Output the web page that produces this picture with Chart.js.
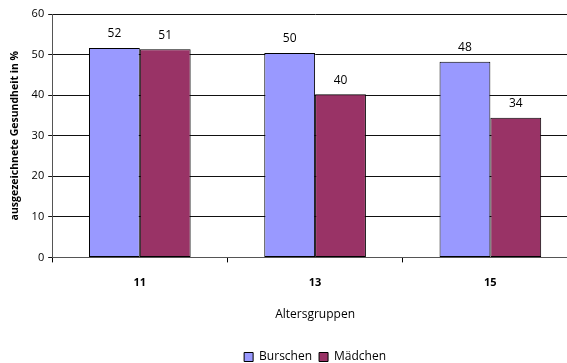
<!DOCTYPE html>
<html>
<head>
<meta charset="utf-8">
<script src="https://cdn.jsdelivr.net/npm/chart.js@4.4.1/dist/chart.umd.min.js"></script>
<style>
  html, body { margin: 0; padding: 0; background: #fff; overflow: hidden; }
  #wrap { width: 580px; height: 363px; }
</style>
</head>
<body>
<div id="wrap"><canvas id="chart" width="580" height="363"></canvas></div>
<script>
// data
var altersgruppen = ['11', '13', '15'];
var burschen = [51.6, 50.4, 48.2];
var maedchen = [51.3, 40.2, 34.4];
var yTicks = [0, 10, 20, 30, 40, 50, 60];

var fontFam = "'Open Sans', sans-serif";

// draws the rounded value above every bar
var valueLabels = {
    id: 'valueLabels',
    afterDatasetsDraw: function (chart) {
        var ctx = chart.ctx;
        ctx.save();
        ctx.font = '12px ' + fontFam;
        ctx.fillStyle = '#000';
        ctx.textAlign = 'center';
        ctx.textBaseline = 'bottom';
        chart.data.datasets.forEach(function (ds, i) {
            chart.getDatasetMeta(i).data.forEach(function (bar, j) {
                ctx.fillText(Math.round(ds.data[j]), bar.x, bar.y - 8);
            });
        });
        ctx.restore();
    }
};

var ctx = document.getElementById('chart').getContext('2d');
new Chart(ctx, {
    type: 'bar',
    data: {
        labels: altersgruppen,
        datasets: [{
            label: 'Burschen',
            data: burschen,
            backgroundColor: '#9999ff',
            borderColor: '#000',
            borderWidth: 1,
            borderSkipped: false,
            categoryPercentage: 0.58,
            barPercentage: 1
        }, {
            label: 'Mädchen',
            data: maedchen,
            backgroundColor: '#993366',
            borderColor: '#000',
            borderWidth: 1,
            borderSkipped: false,
            categoryPercentage: 0.58,
            barPercentage: 1
        }]
    },
    options: {
        responsive: false,
        animation: false,
        layout: {
            padding: { top: 14, left: 9, right: 2, bottom: -10 }
        },
        plugins: {
            tooltip: { enabled: false },
            legend: {
                position: 'bottom',
                fullSize: false,
                labels: {
                    color: '#000',
                    font: { family: fontFam, size: 12 },
                    boxWidth: 9,
                    boxHeight: 9,
                    padding: 7,
                    generateLabels: function (chart) {
                        return chart.data.datasets.map(function (ds, i) {
                            return {
                                text: ds.label,
                                fillStyle: ds.backgroundColor,
                                strokeStyle: '#000',
                                lineWidth: 1,
                                datasetIndex: i
                            };
                        });
                    }
                }
            }
        },
        scales: {
            x: {
                grid: {
                    offset: true,
                    drawOnChartArea: false,
                    color: '#000',
                    tickLength: 5
                },
                border: { color: '#555', width: 1 },
                ticks: {
                    color: '#000',
                    font: { family: fontFam, size: 11, weight: 'bold' },
                    padding: 14
                },
                title: {
                    display: true,
                    text: 'Altersgruppen',
                    color: '#000',
                    font: { family: fontFam, size: 12 },
                    padding: { top: 4, bottom: 22 }
                }
            },
            y: {
                min: 0,
                max: 60,
                afterBuildTicks: function (axis) {
                    axis.ticks = yTicks.map(function (v) { return { value: v }; });
                },
                grid: {
                    color: '#111',
                    tickLength: 4
                },
                border: { color: '#555', width: 1 },
                ticks: {
                    color: '#000',
                    font: { family: fontFam, size: 11 },
                    padding: 4
                },
                title: {
                    display: true,
                    text: 'ausgezeichnete Gesundheit in %',
                    color: '#000',
                    font: { family: fontFam, size: 10.5, weight: 'bold' },
                    padding: { top: 0, bottom: 6 }
                }
            }
        }
    },
    plugins: [valueLabels]
});
</script>
</body>
</html>
